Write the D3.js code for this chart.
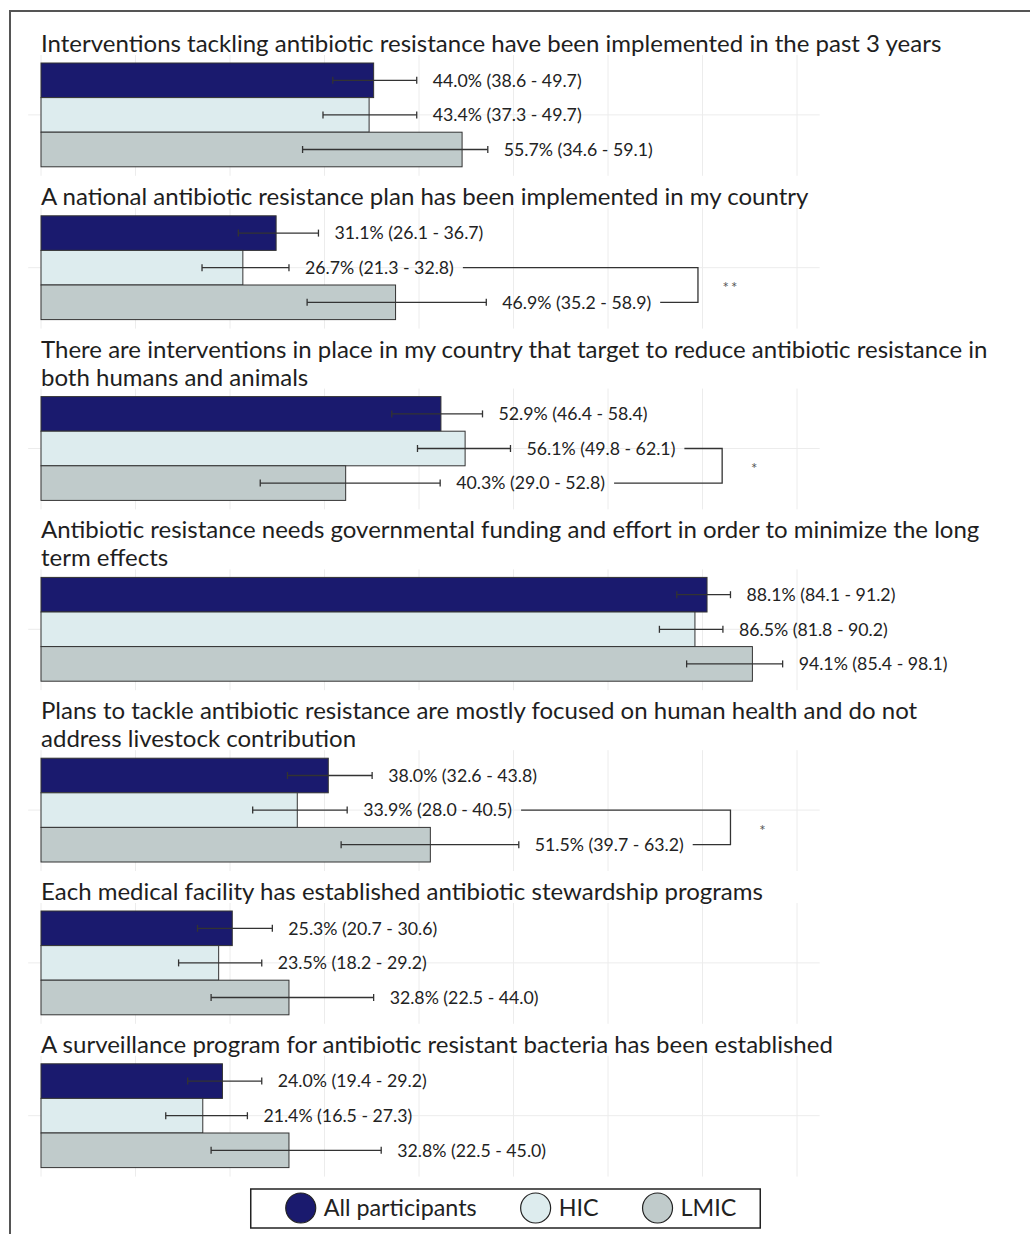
<!DOCTYPE html>
<html><head><meta charset="utf-8">
<script src="https://cdn.jsdelivr.net/npm/d3@7"></script>
<style>body{margin:0;background:#fff} svg{display:block}</style>
</head><body><svg id="c" width="1030" height="1234"></svg>
<script>
// ---------- DATA ----------
const titleLines = [
  ["Interventions tackling antibiotic resistance have been implemented in the past 3 years"],
  ["A national antibiotic resistance plan has been implemented in my country"],
  ["There are interventions in place in my country that target to reduce antibiotic resistance in", "both humans and animals"],
  ["Antibiotic resistance needs governmental funding and effort in order to minimize the long", "term effects"],
  ["Plans to tackle antibiotic resistance are mostly focused on human health and do not", "address livestock contribution"],
  ["Each medical facility has established antibiotic stewardship programs"],
  ["A surveillance program for antibiotic resistant bacteria has been established"]
];
const groups = ["All participants", "HIC", "LMIC"];
const pctAll  = [44.0, 31.1, 52.9, 88.1, 38.0, 25.3, 24.0];
const lowAll  = [38.6, 26.1, 46.4, 84.1, 32.6, 20.7, 19.4];
const upAll   = [49.7, 36.7, 58.4, 91.2, 43.8, 30.6, 29.2];
const pctHIC  = [43.4, 26.7, 56.1, 86.5, 33.9, 23.5, 21.4];
const lowHIC  = [37.3, 21.3, 49.8, 81.8, 28.0, 18.2, 16.5];
const upHIC   = [49.7, 32.8, 62.1, 90.2, 40.5, 29.2, 27.3];
const pctLMIC = [55.7, 46.9, 40.3, 94.1, 51.5, 32.8, 32.8];
const lowLMIC = [34.6, 35.2, 29.0, 85.4, 39.7, 22.5, 22.5];
const upLMIC  = [59.1, 58.9, 52.8, 98.1, 63.2, 44.0, 45.0];
const significance = ["", "**", "*", "", "*", "", ""];
const gridTicks = [0, 12.5, 25, 37.5, 50, 62.5, 75, 87.5, 100];

// ---------- STYLE / LAYOUT ----------
const colors = {"All participants": "#1a1a6e", "HIC": "#ddecee", "LMIC": "#c0cbcb"};
const FONT = "Lato, 'Noto Sans', sans-serif";
const svg = d3.select("#c");
const x = d3.scaleLinear().domain([0, 100]).range([41, 797]);
const panelX0 = x(-1.7), panelX1 = x(103);
const barH = 34.6, firstTop = 63, gap1 = 49, lineH = 28;

svg.append("rect").attr("x", 10).attr("y", 11).attr("width", 1040).attr("height", 1240)
  .attr("fill", "none").attr("stroke", "#555").attr("stroke-width", 2);

function fitSize(str, target, base) {
  const t = svg.append("text").attr("font-family", FONT).attr("font-size", base).text(str);
  const w = t.node().getComputedTextLength(); t.remove();
  return base * target / w;
}
const titleSize = fitSize(titleLines[0][0], 901, 20);
const labelSize = fitSize("44.0% (38.6 - 49.7)", 149, 16);
const legendSize = fitSize("All participants", 153, 20);

const fmt = d3.format(".1f");
let barTop = firstTop;
titleLines.forEach((lines, i) => {
  if (i > 0) barTop += 3 * barH + gap1 + lineH * (lines.length - 1);
  const y = d3.scaleBand().domain(groups).range([barTop, barTop + 3 * barH]).padding(0);
  const barBottom = barTop + 3 * barH;
  const g = svg.append("g");
  // grid
  g.selectAll("line.v").data(gridTicks).join("line")
    .attr("x1", d => x(d)).attr("x2", d => x(d))
    .attr("y1", barTop - 8).attr("y2", barBottom + 9)
    .attr("stroke", "#ececec").attr("stroke-width", 1);
  g.append("line").attr("x1", panelX0).attr("x2", panelX1)
    .attr("y1", y("HIC") + barH / 2).attr("y2", y("HIC") + barH / 2)
    .attr("stroke", "#ececec").attr("stroke-width", 1);
  // title
  lines.forEach((ln, k) => {
    g.append("text").attr("x", 41).attr("y", barTop - 11 - lineH * (lines.length - 1 - k))
      .attr("font-family", FONT).attr("font-size", titleSize).attr("fill", "#1e1e1e").text(ln);
  });
  const rows = [
    {grp: "All participants", v: pctAll[i], lo: lowAll[i], hi: upAll[i]},
    {grp: "HIC", v: pctHIC[i], lo: lowHIC[i], hi: upHIC[i]},
    {grp: "LMIC", v: pctLMIC[i], lo: lowLMIC[i], hi: upLMIC[i]}
  ];
  g.selectAll("rect.bar").data(rows).join("rect")
    .attr("x", x(0)).attr("y", d => y(d.grp)).attr("width", d => x(d.v) - x(0)).attr("height", y.bandwidth())
    .attr("fill", d => colors[d.grp]).attr("stroke", "#333").attr("stroke-width", 1);
  const cy = d => y(d.grp) + y.bandwidth() / 2;
  g.selectAll("line.err").data(rows).join("line")
    .attr("x1", d => x(d.lo)).attr("x2", d => x(d.hi)).attr("y1", cy).attr("y2", cy)
    .attr("stroke", "#333").attr("stroke-width", 1.3);
  ["lo", "hi"].forEach(key => {
    g.selectAll("line.cap" + key).data(rows).join("line")
      .attr("x1", d => x(d[key])).attr("x2", d => x(d[key]))
      .attr("y1", d => cy(d) - 3.5).attr("y2", d => cy(d) + 3.5)
      .attr("stroke", "#333").attr("stroke-width", 1.3);
  });
  const labs = g.selectAll("text.lab").data(rows).join("text")
    .attr("x", d => x(d.hi) + 16).attr("y", cy).attr("dy", "0.35em")
    .attr("font-family", FONT).attr("font-size", labelSize).attr("fill", "#222")
    .text(d => `${fmt(d.v)}% (${fmt(d.lo)} - ${fmt(d.hi)})`);
  if (significance[i]) {
    const nodes = labs.nodes();
    const endH = x(rows[1].hi) + 16 + nodes[1].getComputedTextLength() + 9;
    const endL = x(rows[2].hi) + 16 + nodes[2].getComputedTextLength() + 9;
    const bx = x(Math.max(rows[1].hi, rows[2].hi) + 28);
    const yH = cy(rows[1]), yL = cy(rows[2]);
    g.append("path").attr("d", `M${endH},${yH}H${bx}V${yL}H${endL}`)
      .attr("fill", "none").attr("stroke", "#333").attr("stroke-width", 1.3);
    g.append("text").attr("x", bx + 33).attr("y", (yH + yL) / 2).attr("dy", "0.55em")
      .attr("text-anchor", "middle").attr("font-family", FONT).attr("font-size", 15)
      .attr("letter-spacing", 2).attr("fill", "#555").text(significance[i]);
  }
});

// ---------- LEGEND ----------
const lg = svg.append("g");
const box = lg.append("rect").attr("y", 1189).attr("height", 39)
  .attr("fill", "#fff").attr("stroke", "#222").attr("stroke-width", 1.5);
let cx = 0;
const items = [];
const itemGap = 44;
groups.forEach(gname => {
  const it = lg.append("g");
  it.append("circle").attr("cx", 15).attr("cy", 0).attr("r", 15)
    .attr("fill", colors[gname]).attr("stroke", "#222").attr("stroke-width", 1.2);
  const t = it.append("text").attr("x", 38).attr("dy", "0.35em").attr("font-family", FONT)
    .attr("font-size", legendSize).attr("fill", "#222").text(gname);
  const w = 38 + t.node().getComputedTextLength();
  items.push({it, off: cx});
  cx += w + itemGap;
});
const total = cx - itemGap;
const startX = 505 - total / 2 + 6;
items.forEach(d => d.it.attr("transform", `translate(${startX + d.off},1208)`));
box.attr("x", startX - 35).attr("width", total + 35 + 24);
</script></body></html>
